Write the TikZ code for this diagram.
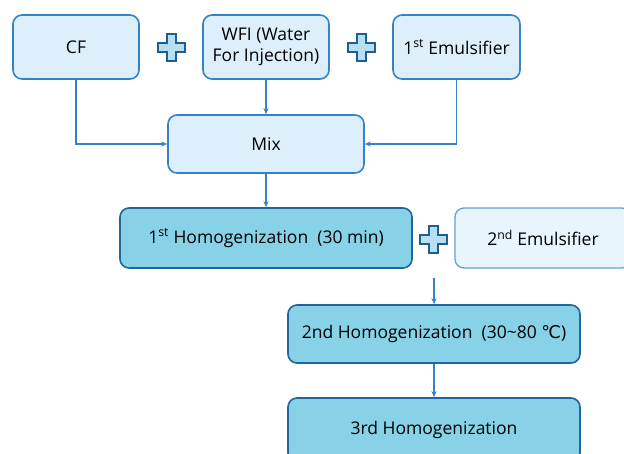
\documentclass[tikz,border=0pt]{standalone}
\usepackage{fontspec}
\setmainfont{Open Sans}
\newfontfamily\dejavu{DejaVu Sans}
\usetikzlibrary{arrows.meta,calc}
\definecolor{lfill}{HTML}{DDEFFA}
\definecolor{lborder}{HTML}{3482C8}
\definecolor{dfill}{HTML}{88D2E7}
\definecolor{dborder}{HTML}{22649C}
\definecolor{efill}{HTML}{E8F5FC}
\definecolor{eborder}{HTML}{5FA3DA}
\definecolor{arr}{HTML}{3A80C8}
\definecolor{pfill}{HTML}{B5DFF3}
\definecolor{pborder}{HTML}{1F5E8E}
\tikzset{
  lbox/.style={draw=lborder, fill=lfill, line width=1.6pt, rounded corners=9pt, align=center, font=\fontsize{17.5}{21}\selectfont, inner sep=0pt},
  dbox/.style={draw=dborder, fill=dfill, line width=1.6pt, rounded corners=9pt, align=center, font=\fontsize{17.5}{21}\selectfont, inner sep=0pt},
  ebox/.style={draw=eborder, fill=efill, line width=1.3pt, rounded corners=9pt, align=center, font=\fontsize{17.5}{21}\selectfont, inner sep=0pt},
  flow/.style={draw=arr, line width=1.3pt, -{Stealth[length=6pt,width=5pt]}},
}
\newcommand{\plussign}[2]{%
  \fill[pfill, draw=pborder, line width=2pt, line join=miter]
    ($(#1,#2)+(-4.5,-13.5)$) -- ++(9,0) -- ++(0,9) -- ++(9,0) -- ++(0,9) -- ++(-9,0) -- ++(0,9)
    -- ++(-9,0) -- ++(0,-9) -- ++(-9,0) -- ++(0,-9) -- ++(9,0) -- cycle;}
\begin{document}
\begin{tikzpicture}[x=1pt,y=-1pt]
\useasboundingbox (0,0) rectangle (624,453);
\clip (0,0) rectangle (624,453);
% top row
\node[lbox, minimum width=126pt, minimum height=64pt] (cf) at (76,47) {CF};
\node[lbox, minimum width=126pt, minimum height=64pt] (wfi) at (266,47) {WFI (Water\\For Injection)};
\node[lbox, minimum width=127pt, minimum height=64pt] (em1) at (456.5,47) {1\textsuperscript{st} Emulsifier};
\node[lbox, minimum width=196pt, minimum height=58pt] (mix) at (266,144) {Mix};
\node[dbox, minimum width=292pt, minimum height=60pt] (h1) at (266,238) {1\textsuperscript{st} Homogenization~ (30 min)};
\node[ebox, minimum width=176pt, minimum height=60pt] (em2) at (543,238) {2\textsuperscript{nd} Emulsifier};
\node[dbox, minimum width=292pt, minimum height=58pt] (h2) at (434,334) {2nd Homogenization~ (30\textasciitilde 80 {\dejavu ℃})};
\node[dbox, minimum width=292pt, minimum height=64pt] (h3) at (434,430) {3rd Homogenization};
\coordinate (split) at (434,278);
% plus signs
\plussign{171}{47}
\plussign{361}{47}
\plussign{433}{239}
% connectors
\draw[flow] (cf.south) |- (mix.west);
\draw[flow] (wfi.south) -- (mix.north);
\draw[flow] (em1.south) |- (mix.east);
\draw[flow] (mix.south) -- (h1.north);
\draw[flow] (split) -- (h2.north);
\draw[flow] (h2.south) -- (h3.north);
\end{tikzpicture}
\end{document}
